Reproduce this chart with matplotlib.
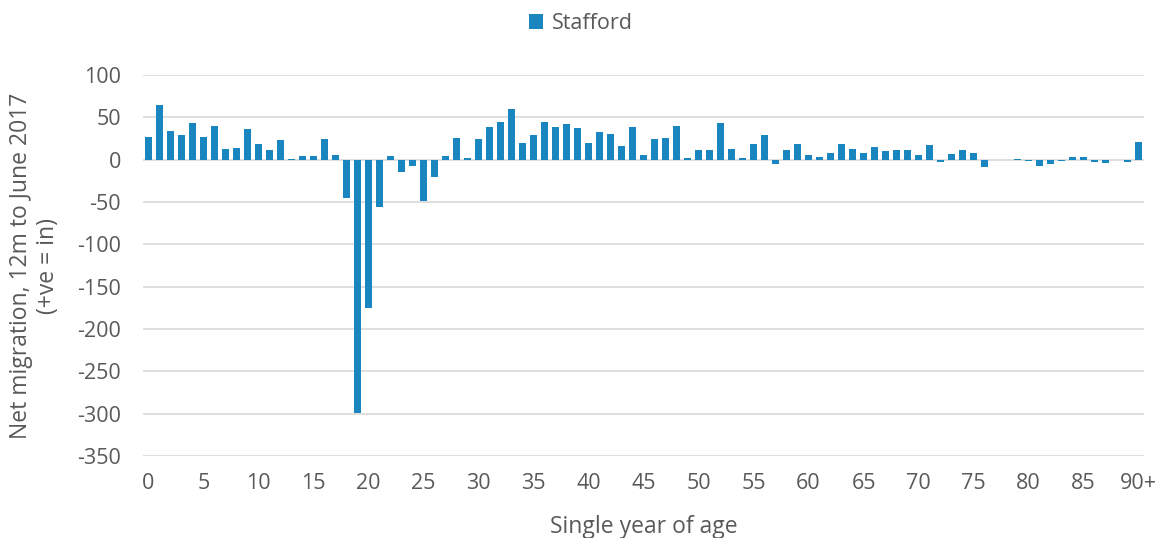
import matplotlib.pyplot as plt
import numpy as np

plt.rcParams['font.family'] = ['Open Sans', 'DejaVu Sans']
plt.rcParams['axes.unicode_minus'] = False

# net migration by single year of age, 0..90+
ages = list(range(91))
net_migration = [
    27, 65, 34, 29, 43, 27, 40, 13, 14, 36,
    18, 11, 23, 0.5, 4, 4, 24, 5, -45, -299,
    -175, -56, 4, -15, -8, -49, -21, 4, 25, 2,
    24, 39, 45, 60, 20, 29, 45, 38, 42, 37,
    20, 33, 30, 16, 39, 5, 24, 26, 40, 2,
    12, 11, 43, 13, 2, 19, 29, -5, 12, 19,
    6, 3.5, 8, 18, 13, 8, 15, 10, 11, 12,
    5, 17, -3, 7, 12, 8, -9, 0, -0.5, 0.5,
    -2, -7, -5, -1.5, 3.5, 3.5, -3, -4, 0, -3,
    21,
]
tick_pos = list(range(0, 91, 5))
tick_labels = [str(a) for a in range(0, 90, 5)] + ['90+']

bar_color = '#1a86c0'
text_color = '#595959'

fig = plt.figure(figsize=(11.62, 5.38), dpi=100)
ax = fig.add_axes([0.1231, 0.1524, 0.8614, 0.7082])

ax.bar(ages, net_migration, width=0.63, color=bar_color, label='Stafford', zorder=3)

ax.set_xlim(-0.5, 90.5)
ax.set_ylim(-350, 100)
ax.set_yticks(np.arange(-350, 101, 50))
ax.set_xticks(tick_pos)
ax.set_xticklabels(tick_labels)
ax.grid(axis='y', color='#d9d9d9', linewidth=1.2, zorder=0)
for s in ax.spines.values():
    s.set_visible(False)
ax.tick_params(length=0, labelsize=15.5, colors=text_color)
ax.tick_params(axis='y', pad=16)
ax.tick_params(axis='x', pad=12)

ax.set_xlabel('Single year of age', fontsize=16.5, color=text_color, labelpad=15)
ax.set_ylabel('Net migration, 12m to June 2017\n(+ve = in)', fontsize=16.5,
              color=text_color, labelpad=12, linespacing=1.15)

fig.legend(loc='upper center', bbox_to_anchor=(0.5, 1.012), frameon=False,
           fontsize=15.5, labelcolor=text_color, handlelength=0.65,
           handleheight=0.65, handletextpad=0.4)

fig.savefig('out.png', dpi=100)
